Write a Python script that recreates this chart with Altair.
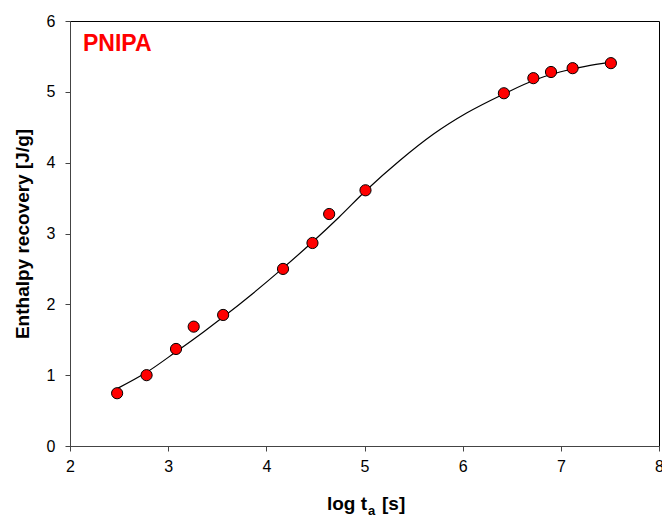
import altair as alt
import pandas as pd

# measured data points
log_t = [2.48, 2.78, 3.08, 3.26, 3.56, 4.17, 4.47, 4.64, 5.01, 6.42, 6.72, 6.90, 7.12, 7.51]
enthalpy = [0.745, 1.00, 1.37, 1.685, 1.85, 2.50, 2.866, 3.275, 3.61, 4.98, 5.193, 5.28, 5.334, 5.405]

# fitted curve
fit_x = [2.48, 2.78, 3.08, 3.36, 3.56, 3.86, 4.16, 4.47, 4.74, 5.01, 5.36, 5.70, 6.04, 6.42, 6.72, 6.99, 7.25, 7.51]
fit_y = [0.81, 1.04, 1.33, 1.61, 1.82, 2.15, 2.50, 2.88, 3.23, 3.60, 4.03, 4.40, 4.70, 4.97, 5.16, 5.28, 5.36, 5.42]

pts = pd.DataFrame({"x": log_t, "y": enthalpy})
fit = pd.DataFrame({"x": fit_x, "y": fit_y})

FONT = "Liberation Sans"
W, H = 589, 425

xscale = alt.Scale(domain=[2, 8], nice=False, zero=False)
yscale = alt.Scale(domain=[0, 6], nice=False)

xaxis = alt.Axis(values=[2, 3, 4, 5, 6, 7, 8], format="d", grid=False, tickSize=5, labelPadding=7,
                 labelFontSize=16, labelFont=FONT, labelColor="black", title=None,
                 domainColor="#444", tickColor="#444", labelFlush=False, labelOverlap=False)
yaxis = alt.Axis(values=[0, 1, 2, 3, 4, 5, 6], format="d", grid=False, tickSize=5, labelPadding=10,
                 labelFontSize=16, labelFont=FONT, labelColor="black",
                 title="Enthalpy recovery [J/g]", titleFont=FONT, titleFontSize=19,
                 titleFontWeight="bold", titleColor="black",
                 titleX=-48, titleY=H / 2, titleAlign="center", titleBaseline="middle",
                 domainColor="#444", tickColor="#444")

line = alt.Chart(fit).mark_line(color="black", strokeWidth=1.2, interpolate="monotone").encode(
    x=alt.X("x:Q", scale=xscale, axis=xaxis),
    y=alt.Y("y:Q", scale=yscale, axis=yaxis),
)

points = alt.Chart(pts).mark_point(filled=True, fill="#ff0000", stroke="black", strokeWidth=1,
                                   size=125, opacity=1, shape="circle").encode(
    x=alt.X("x:Q", scale=xscale),
    y=alt.Y("y:Q", scale=yscale),
)

label = alt.Chart(pd.DataFrame({"t": ["PNIPA"]})).mark_text(
    font=FONT, fontSize=23, fontWeight="bold", color="#ff0000", align="left", baseline="middle"
).encode(x=alt.value(13), y=alt.value(23), text="t:N")

t1 = alt.Chart(pd.DataFrame({"t": ["log t"]})).mark_text(
    font=FONT, fontSize=19, fontWeight="bold", color="black", align="right", baseline="alphabetic"
).encode(x=alt.value(297), y=alt.value(489), text="t:N")
t2 = alt.Chart(pd.DataFrame({"t": ["a"]})).mark_text(
    font=FONT, fontSize=13, fontWeight="bold", color="black", align="left", baseline="alphabetic"
).encode(x=alt.value(298), y=alt.value(494), text="t:N")
t3 = alt.Chart(pd.DataFrame({"t": ["[s]"]})).mark_text(
    font=FONT, fontSize=19, fontWeight="bold", color="black", align="left", baseline="alphabetic"
).encode(x=alt.value(312), y=alt.value(489), text="t:N")

chart = alt.layer(line, points, label, t1, t2, t3).properties(
    width=W, height=H,
    autosize=alt.AutoSizeParams(type="none"),
    padding={"left": 70, "top": 21, "right": 3, "bottom": 71},
    background="white",
).configure_view(stroke="black", strokeWidth=1)

chart.save("out.html", embed_options={"renderer": "svg", "actions": False})
